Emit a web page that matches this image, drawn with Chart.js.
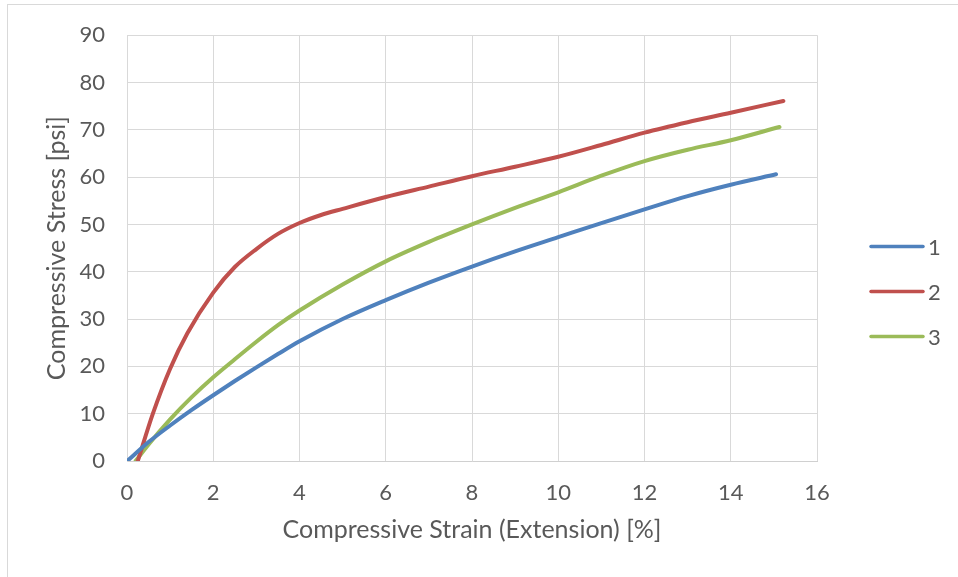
<!DOCTYPE html>
<html>
<head>
<meta charset="utf-8">
<script src="https://cdn.jsdelivr.net/npm/chart.js@4.4.1/dist/chart.umd.min.js"></script>
<style>
  html, body { margin: 0; padding: 0; background: #ffffff; overflow: hidden; }
  #wrap { position: relative; width: 958px; height: 577px; }
  #frame { position: absolute; left: 7px; top: 4px; width: 960px; height: 590px; border: 1px solid #d9d9d9; pointer-events: none; box-sizing: border-box; }
  canvas { display: block; }
</style>
</head>
<body>
<div id="wrap">
  <canvas id="c" width="958" height="577"></canvas>
  <div id="frame"></div>
</div>
<script>
// ---- data ----
const seriesNames = ['1', '2', '3'];

const strain1 = [0.03, 0.5, 1, 1.5, 2, 2.5, 3, 3.5, 4, 5, 6, 7, 8, 9, 10, 11, 12, 13, 14, 15.05];
const stress1 = [0.2, 4.0, 7.5, 10.8, 13.9, 16.9, 19.8, 22.6, 25.3, 30.0, 34.0, 37.7, 41.1, 44.3, 47.3, 50.3, 53.2, 56.0, 58.4, 60.6];

const strain2 = [0.25, 0.6, 1.0, 1.4, 2, 2.5, 3, 3.5, 4, 4.5, 5, 6, 7, 8, 9, 10, 11, 12, 13, 14, 15.22];
const stress2 = [0.0, 10.0, 19.5, 27.0, 35.6, 41.0, 44.8, 48.0, 50.3, 52.0, 53.3, 55.8, 58.0, 60.2, 62.2, 64.3, 66.8, 69.4, 71.6, 73.6, 76.1];

const strain3 = [0.2, 0.5, 1, 1.5, 2, 2.5, 3, 3.5, 4, 5, 6, 7, 8, 9, 10, 11, 12, 13, 14, 15.13];
const stress3 = [0.0, 3.5, 8.8, 13.5, 17.7, 21.5, 25.2, 28.7, 31.8, 37.3, 42.2, 46.3, 50.0, 53.5, 56.8, 60.3, 63.4, 65.8, 67.8, 70.6];

const xTicks = [0, 2, 4, 6, 8, 10, 12, 14, 16];
const yTicks = [0, 10, 20, 30, 40, 50, 60, 70, 80, 90];

const xTitle = 'Compressive Strain (Extension) [%]';
const yTitle = 'Compressive Stress [psi]';

const colors = ['#4F81BD', '#C0504D', '#9BBB59'];

function pts(xs, ys) { return xs.map((x, i) => ({ x: x, y: ys[i] })); }

const FONT = 'Lato, "Open Sans", sans-serif';
const TXT = '#595959';

// legend drawn at the reference position (right of plot, centred on the canvas)
const sideLegend = {
  id: 'sideLegend',
  afterDraw(chart) {
    const ctx = chart.ctx;
    const ds = chart.data.datasets;
    const x0 = 871, len = 52, y0 = 246.5, gap = 45;
    ctx.save();
    ds.forEach((d, i) => {
      const y = y0 + i * gap;
      ctx.strokeStyle = d.borderColor;
      ctx.lineWidth = 3.5;
      ctx.lineCap = 'round';
      ctx.beginPath();
      ctx.moveTo(x0, y);
      ctx.lineTo(x0 + len, y);
      ctx.stroke();
      ctx.fillStyle = TXT;
      ctx.font = '22px ' + FONT;
      ctx.textBaseline = 'middle';
      ctx.textAlign = 'left';
      ctx.fillText(d.label, x0 + len + 5, y + 1);
    });
    ctx.restore();
  }
};

new Chart(document.getElementById('c'), {
  type: 'scatter',
  data: {
    datasets: [
      { label: seriesNames[0], data: pts(strain1, stress1), borderColor: colors[0], backgroundColor: colors[0] },
      { label: seriesNames[1], data: pts(strain2, stress2), borderColor: colors[1], backgroundColor: colors[1] },
      { label: seriesNames[2], data: pts(strain3, stress3), borderColor: colors[2], backgroundColor: colors[2] }
    ].map(d => Object.assign(d, {
      showLine: true, pointRadius: 0, pointHoverRadius: 0, borderWidth: 4,
      cubicInterpolationMode: 'monotone', borderCapStyle: 'round', borderJoinStyle: 'round', fill: false
    }))
  },
  options: {
    responsive: false,
    animation: false,
    devicePixelRatio: 1,
    layout: { padding: { left: 40, right: 141, top: 34, bottom: 28 } },
    plugins: {
      legend: { display: false },
      tooltip: { enabled: false }
    },
    scales: {
      x: {
        type: 'linear', min: 0, max: 16,
        afterBuildTicks: s => { s.ticks = xTicks.map(v => ({ value: v })); },
        afterFit: s => { s.height = 88; },
        ticks: { color: TXT, font: { family: FONT, size: 22 }, padding: 19 },
        grid: { color: '#d9d9d9', lineWidth: 1, drawTicks: false },
        border: { color: '#d0d0d0', width: 1 },
        title: { display: true, text: xTitle, color: TXT, font: { family: FONT, size: 25 }, padding: { top: 0, bottom: 4 } }
      },
      y: {
        type: 'linear', min: 0, max: 90,
        afterBuildTicks: s => { s.ticks = yTicks.map(v => ({ value: v })); },
        afterFit: s => { s.width = 87; },
        ticks: { color: TXT, font: { family: FONT, size: 22 }, padding: 22 },
        grid: { color: '#d9d9d9', lineWidth: 1, drawTicks: false },
        border: { color: '#d9d9d9', width: 1 },
        title: { display: true, text: yTitle, color: TXT, font: { family: FONT, size: 25 }, padding: { top: 2, bottom: 0 } }
      }
    }
  },
  plugins: [sideLegend]
});
</script>
</body>
</html>
